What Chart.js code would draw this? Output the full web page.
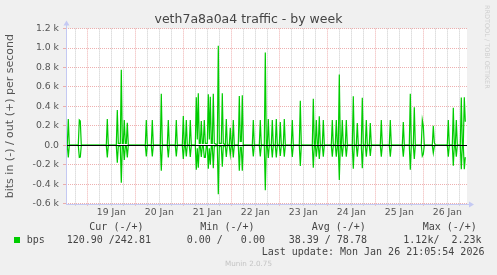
<!DOCTYPE html>
<html><head><meta charset="utf-8">
<script src="https://cdn.jsdelivr.net/npm/chart.js@4/dist/chart.umd.min.js"></script>
<style>
html,body{margin:0;padding:0;background:#f0f0f0;width:497px;height:275px;overflow:hidden;}
#wrap{position:relative;width:497px;height:275px;background:#f0f0f0;}
canvas{position:absolute;left:0;top:0;}
.m{position:absolute;white-space:pre;font-family:"DejaVu Sans Mono",monospace;font-size:10px;line-height:12px;color:#444;}
#title{position:absolute;left:0;top:11px;width:497px;text-align:center;font-family:"DejaVu Sans",sans-serif;font-size:12.5px;line-height:15px;color:#444;}
#munin{position:absolute;left:0;top:259px;width:497px;text-align:center;font-family:"DejaVu Sans",sans-serif;font-size:7.2px;line-height:9px;color:#c4c4c4;}
#rrd{position:absolute;left:482px;top:5px;writing-mode:vertical-rl;font-family:"DejaVu Sans",sans-serif;font-size:6.5px;line-height:9px;color:#cfcfcf;white-space:pre;}
#sq{position:absolute;left:14px;top:237px;width:6px;height:6px;background:#00cc00;}
</style></head><body>
<div id="wrap">
<canvas id="c" width="497" height="275" style="width:497px;height:275px"></canvas>
<div id="title">veth7a8a0a4 traffic - by week</div>
<div id="rrd">RRDTOOL / TOBI OETIKER</div>
<div class="m" style="left:89.3px;top:221.3px">Cur (-/+)</div>
<div class="m" style="left:200.3px;top:221.3px">Min (-/+)</div>
<div class="m" style="left:311.7px;top:221.3px">Avg (-/+)</div>
<div class="m" style="left:422.7px;top:221.3px">Max (-/+)</div>
<div id="sq"></div>
<div class="m" style="left:26.7px;top:233.7px">bps</div>
<div class="m" style="left:66.7px;top:233.7px">120.90 /242.81</div>
<div class="m" style="left:186.7px;top:233.7px">0.00 /   0.00</div>
<div class="m" style="left:288.7px;top:233.7px">38.39 / 78.78</div>
<div class="m" style="left:403.3px;top:233.7px">1.12k/  2.23k</div>
<div class="m" style="left:261.7px;top:245.7px">Last update: Mon Jan 26 21:05:54 2026</div>
<div id="munin">Munin 2.0.75</div>
</div>
<script>
// hours relative to 19 Jan 00:00
const hours = [
  -10.5,-10,-9.5,-9,
  -4.5,-4,-3.5,-3,
  9.5,10,10.5,
  14.5,15,15.5,16.5,17,17.5,18,18.5,19,19.5,20,20.5,
  29,29.5,30,
  32,32.5,33,
  36.5,37,37.5,
  40,40.5,41,
  44,44.5,45,
  47.5,48,48.5,49,49.5,50,
  51,51.5,52,
  54,54.5,55,55.5,56,56.5,57,57.5,58,58.5,59,59.5,60,60.5,61,61.5,62,62.5,63,63.5,
  65,65.5,66,67,67.5,68,
  69,69.5,70,71,71.5,72,72.5,73,73.5,
  75.5,76,76.5,77,77.5,78,
  82.5,83,83.5,
  86,86.5,87,
  88.5,89,89.5,90,90.5,91,
  92,92.5,93,94,94.5,95,96,96.5,97,98,98.5,99,
  102,102.5,103,
  106,106.5,107,
  112.5,113,113.5,114,114.5,115,115.5,116,116.5,117.5,118,118.5,
  122,122.5,123,124,124.5,125,125.5,126,126.5,127,127.5,128,129,129.5,130,
  132.5,133,133.5,134.5,135,135.5,
  137,137.5,138,139,139.5,140,141,141.5,142,
  146.5,147,147.5,
  151,151.5,152,
  157.5,158,158.5,
  161,161.5,162,163,163.5,164,
  167,167.5,168,168.5,
  172.5,173,173.5,174,
  180,180.5,181,
  182.5,183,183.5,184,184.5,185,
  186.5,187,187.5,188,188.5,189
];
const outBits = [
  3,3,271,3,
  3,261,250,3,
  3,271,3,
  3,363,20,20,776,20,20,260,20,20,233,3,
  3,261,3,
  3,261,3,
  3,529,3,
  3,261,3,
  3,261,3,
  3,302,3,3,261,3,
  3,261,3,
  3,495,60,536,20,20,250,20,20,261,20,20,20,525,60,500,20,20,529,20,
  3,1024,20,20,536,20,
  3,271,3,3,180,3,3,261,3,
  3,508,40,40,515,3,
  3,261,3,
  3,261,3,
  3,955,3,3,271,3,
  3,261,3,3,271,3,3,240,3,3,271,3,
  3,261,3,
  3,457,3,
  3,478,3,3,261,3,3,300,3,3,261,3,
  3,261,3,3,261,3,3,729,3,3,261,3,3,261,3,
  3,505,3,3,230,3,
  3,488,3,3,261,3,3,230,3,
  3,261,3,
  3,261,3,
  3,240,3,
  3,529,3,3,392,3,
  3,261,200,3,
  3,200,30,3,
  3,261,3,
  3,385,3,3,261,3,
  3,492,3,3,495,243
];
const inBits = [
  1,1,124,1,
  1,124,120,1,
  1,124,1,
  1,179,8,8,385,8,8,150,8,8,124,1,
  1,113,1,
  1,113,1,
  1,262,1,
  1,124,1,
  1,113,1,
  1,140,1,1,113,1,
  1,120,1,
  1,250,30,230,8,8,120,8,8,124,124,8,8,240,30,200,8,8,235,8,
  1,502,8,8,220,8,
  1,120,1,1,100,1,1,124,1,
  1,262,20,20,262,1,
  1,113,1,
  1,113,1,
  1,461,1,1,130,1,
  1,124,1,1,124,1,1,110,1,1,117,1,
  1,120,1,
  1,213,1,
  1,230,1,1,117,1,1,140,1,1,117,1,
  1,117,1,1,117,1,1,357,1,1,117,1,1,117,1,
  1,240,1,1,117,1,
  1,235,1,1,117,1,1,110,1,
  1,117,1,
  1,117,1,
  1,117,1,
  1,250,1,1,140,1,
  1,110,90,1,
  1,80,10,1,
  1,117,1,
  1,210,1,1,117,1,
  1,245,1,1,245,121
];
const dayLabels = ['19 Jan','20 Jan','21 Jan','22 Jan','23 Jan','24 Jan','25 Jan','26 Jan'];
const xMin = -10.65, xMax = 189.85;
const yMin = -600, yMax = 1200;

const MAJOR = 'rgba(232,150,150,0.75)';
const MINOR = 'rgba(196,196,196,0.9)';
const AXIS = '#c4c9f3';

const decor = {
  id: 'decor',
  beforeDraw(chart) {
    const {ctx, chartArea: a} = chart;
    ctx.save();
    ctx.fillStyle = '#ffffff';
    ctx.fillRect(a.left, a.top, a.right - a.left, a.bottom - a.top);
    ctx.restore();
  },
  afterDatasetsDraw(chart) {
    const {ctx, chartArea: a, scales: {y}} = chart;
    const py = Math.round(y.getPixelForValue(0)) + 0.5;
    ctx.save();
    ctx.strokeStyle = '#000000';
    ctx.lineWidth = 1;
    ctx.beginPath();
    ctx.moveTo(a.left, py); ctx.lineTo(a.right, py);
    ctx.stroke();
    ctx.restore();
  },
  afterDraw(chart) {
    const {ctx, chartArea: a} = chart;
    const lx = Math.round(a.left) + 0.5, by = Math.round(a.bottom) + 0.5;
    ctx.save();
    ctx.strokeStyle = AXIS; ctx.fillStyle = AXIS; ctx.lineWidth = 1;
    ctx.beginPath();
    ctx.moveTo(lx, by); ctx.lineTo(lx, a.top - 5);
    ctx.moveTo(a.left, by); ctx.lineTo(a.right + 4, by);
    ctx.stroke();
    ctx.beginPath();
    ctx.moveTo(lx - 3, a.top - 3); ctx.lineTo(lx + 3, a.top - 3); ctx.lineTo(lx, a.top - 8); ctx.closePath(); ctx.fill();
    ctx.beginPath();
    ctx.moveTo(a.right + 2, by - 3); ctx.lineTo(a.right + 2, by + 3); ctx.lineTo(a.right + 7, by); ctx.closePath(); ctx.fill();
    ctx.restore();
  }
};

const outPts = hours.map((h, i) => ({x: h, y: outBits[i]}));
const inPts = hours.map((h, i) => ({x: h, y: -inBits[i]}));

new Chart(document.getElementById('c'), {
  type: 'line',
  data: {
    datasets: [
      {data: inPts, borderColor: '#00cc00', borderWidth: 1.2, pointRadius: 0, tension: 0, fill: false},
      {data: outPts, borderColor: '#00cc00', borderWidth: 1.2, pointRadius: 0, tension: 0, fill: false}
    ]
  },
  options: {
    responsive: false,
    animation: false,
    devicePixelRatio: 1,
    layout: {padding: {top: 28.6, right: 30, bottom: 0, left: 0}},
    plugins: {legend: {display: false}, tooltip: {enabled: false}, title: {display: false}},
    scales: {
      x: {
        type: 'linear', min: xMin, max: xMax,
        afterFit(s) { s.height = 71.3; },
        afterBuildTicks(s) {
          const t = [];
          for (let v = -6; v <= 186; v += 6) t.push({value: v});
          s.ticks = t;
        },
        ticks: {
          autoSkip: false, maxRotation: 0, padding: 1,
          color: '#555', font: {family: 'DejaVu Sans', size: 9.3},
          callback(v) {
            const r = ((v % 24) + 24) % 24;
            if (r === 12) { const i = (v - 12) / 24; return dayLabels[i] || ''; }
            return '';
          }
        },
        grid: {
          color(ctx) { const v = ctx.tick ? ctx.tick.value : 0; return (((v % 24) + 24) % 24 === 0) ? MAJOR : MINOR; },
          lineWidth: 1, drawTicks: true, tickLength: 2
        },
        border: {display: false, dash: [1, 1]}
      },
      y: {
        min: yMin, max: yMax,
        afterFit(s) { s.width = 66; },
        afterBuildTicks(s) {
          const t = [];
          for (let v = yMin; v <= yMax; v += 100) t.push({value: v});
          s.ticks = t;
        },
        ticks: {
          padding: 4, color: '#555', font: {family: 'DejaVu Sans', size: 9.3},
          callback(v) {
            v = Math.round(v);
            if (v % 200 !== 0) return '';
            if (v === 0) return '0.0';
            return (v / 1000).toFixed(1) + ' k';
          }
        },
        grid: {
          color(ctx) { const v = ctx.tick ? Math.round(ctx.tick.value) : 0; return (v % 200 === 0) ? MAJOR : MINOR; },
          lineWidth: 1, drawTicks: true, tickLength: 3
        },
        border: {display: false, dash: [1, 1]},
        title: {
          display: true, text: 'bits in (-) / out (+) per second',
          color: '#555', font: {family: 'DejaVu Sans', size: 11},
          padding: {top: 4, bottom: 0}
        }
      }
    }
  },
  plugins: [decor]
});
</script>
</body></html>
